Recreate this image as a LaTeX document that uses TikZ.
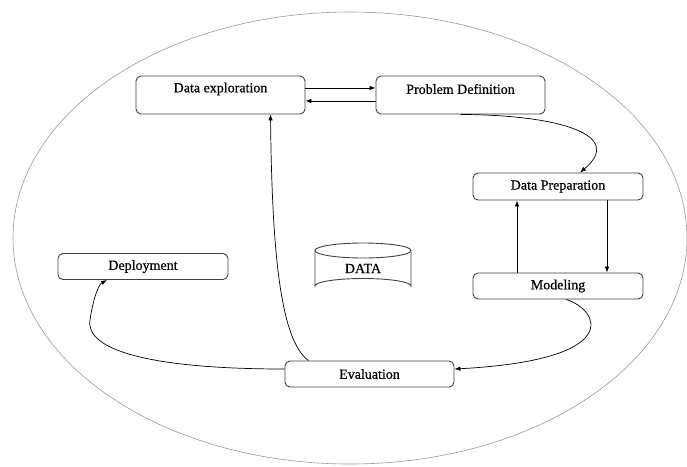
\documentclass[tikz,border=0pt]{standalone}
\usepackage{fontspec}
\setmainfont{Liberation Serif}
\newfontfamily\lblfont[FakeBold=0.6]{Liberation Serif}
\usetikzlibrary{arrows.meta}
\begin{document}
\begin{tikzpicture}[x=1pt,y=-1pt,
  box/.style={draw=black!75, line width=0.9pt, rounded corners=5pt, inner sep=0pt, font=\lblfont\fontsize{14}{16}\selectfont},
  lbl/.style={inner sep=0pt, font=\lblfont\fontsize{14}{16}\selectfont},
  conn/.style={draw=black, line width=0.7pt, -{Latex[length=6pt,width=4.5pt]}},
  ring/.style={draw=black!40, line width=0.6pt}]
\useasboundingbox (0,0) rectangle (687,466);
\draw[ring] (350,238) ellipse [x radius=337, y radius=226];
% boxes
\node[box, minimum width=169, minimum height=38] (de) at (220.5,95) {};
\node[lbl] at (220.5,89) {Data exploration};
\node[box, minimum width=169, minimum height=38] (pd) at (460.5,95) {};
\node[lbl] at (460.5,89) {Problem Definition};
\node[box, minimum width=170, minimum height=27] (dp) at (558,186.5) {Data Preparation};
\node[box, minimum width=170, minimum height=26] (mo) at (558,286) {Modeling};
\node[box, minimum width=170, minimum height=26] (dep) at (143,266.5) {Deployment};
\node[box, minimum width=169, minimum height=26] (ev) at (369.5,374) {Evaluation};
% cylinder
\draw[draw=black!75, line width=0.9pt] (315,250.5) -- (315,286) arc[start angle=180, end angle=360, x radius=48, y radius=7.5] -- (411,250.5);
\draw[draw=black!75, line width=0.9pt] (363,250.5) ellipse [x radius=48, y radius=7.5];
\node[lbl] (data) at (363,268.5) {DATA};
% connectors
\draw[conn] ([yshift=7pt]de.east) -- ([yshift=7pt]pd.west);
\draw[conn] ([yshift=-6pt]pd.west) -- ([yshift=-6pt]de.east);
\draw[conn] (pd.south) .. controls (560,115) and (625,135) .. ([xshift=22pt]dp.north);
\draw[conn] ([xshift=49pt]dp.south) -- ([xshift=49pt]mo.north);
\draw[conn] ([xshift=-41pt]mo.north) -- ([xshift=-41pt]dp.south);
\draw[conn] ([xshift=8pt]mo.south) .. controls (600,310) and (625,360) .. ([yshift=5pt]ev.east);
\draw[conn] ([xshift=-61pt]ev.north) .. controls (280,340) and (272,250) .. ([xshift=50pt]de.south);
\draw[conn] ([yshift=5pt]ev.west) .. controls (150,369) and (85,350) .. (90,320) .. controls (93,300) and (98,285) .. ([xshift=-36pt]dep.south);
\end{tikzpicture}
\end{document}
